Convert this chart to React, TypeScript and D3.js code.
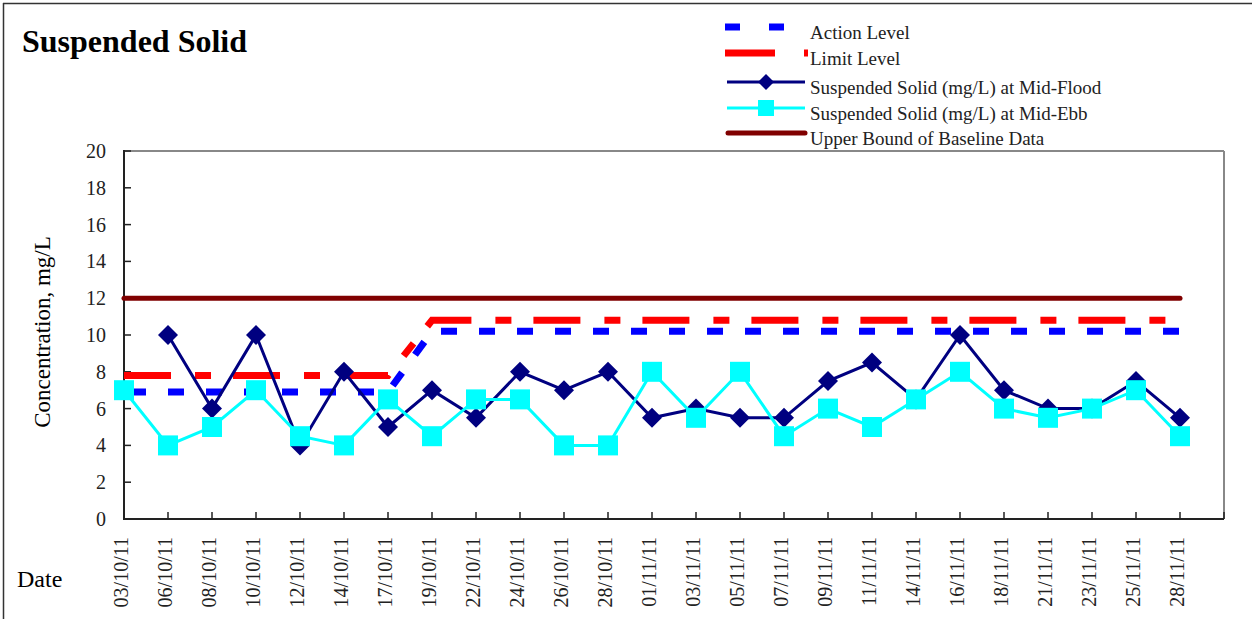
import * as d3 from "d3";

// dates on the category axis
const dates = [
  "03/10/11", "06/10/11", "08/10/11", "10/10/11", "12/10/11", "14/10/11", "17/10/11",
  "19/10/11", "22/10/11", "24/10/11", "26/10/11", "28/10/11", "01/11/11", "03/11/11",
  "05/11/11", "07/11/11", "09/11/11", "11/11/11", "14/11/11", "16/11/11", "18/11/11",
  "21/11/11", "23/11/11", "25/11/11", "28/11/11",
];

const actionLevel = [
  6.9, 6.9, 6.9, 6.9, 6.9, 6.9, 6.9, 10.2, 10.2, 10.2, 10.2, 10.2, 10.2, 10.2,
  10.2, 10.2, 10.2, 10.2, 10.2, 10.2, 10.2, 10.2, 10.2, 10.2, 10.2,
];
const limitLevel = [
  7.8, 7.8, 7.8, 7.8, 7.8, 7.8, 7.8, 10.8, 10.8, 10.8, 10.8, 10.8, 10.8, 10.8,
  10.8, 10.8, 10.8, 10.8, 10.8, 10.8, 10.8, 10.8, 10.8, 10.8, 10.8,
];
const midFlood: (number | null)[] = [
  null, 10, 6, 10, 4, 8, 5, 7, 5.5, 8, 7, 8, 5.5, 6,
  5.5, 5.5, 7.5, 8.5, 6.5, 10, 7, 6, 6, 7.5, 5.5,
];
const midEbb = [
  7, 4, 5, 7, 4.5, 4, 6.5, 4.5, 6.5, 6.5, 4, 4, 8, 5.5,
  8, 4.5, 6, 5, 6.5, 8, 6, 5.5, 6, 7, 4.5,
];
const upperBound = dates.map(() => 12);

const yTicks = [0, 2, 4, 6, 8, 10, 12, 14, 16, 18, 20];

const W = 1252;
const H = 619;
const plot = { left: 124, right: 1224, top: 151, bottom: 519 };
const serif = "'Liberation Serif', 'Times New Roman', serif";

export default function App() {
  const x = d3.scaleBand<string>().domain(dates).range([plot.left, plot.right]).padding(0);
  const y = d3.scaleLinear().domain([0, 20]).range([plot.bottom, plot.top]);

  const line = d3
    .line<number | null>()
    .defined((d) => d != null)
    .x((_, i) => x(dates[i])!)
    .y((d) => y(d as number));

  const diamond = (cx: number, cy: number, r: number) =>
    `M${cx},${cy - r}L${cx + r},${cy}L${cx},${cy + r}L${cx - r},${cy}Z`;

  const legend = [
    { label: "Action Level", y: 27 },
    { label: "Limit Level", y: 53 },
    { label: "Suspended Solid (mg/L) at Mid-Flood", y: 82 },
    { label: "Suspended Solid (mg/L) at Mid-Ebb", y: 108 },
    { label: "Upper Bound of Baseline Data", y: 133 },
  ];

  return (
    <svg
      width={W}
      height={H}
      style={{ position: "absolute", left: 0, top: 0, background: "#fff" }}
      fontFamily={serif}
    >
      {/* outer frame */}
      <line x1={3} y1={3.5} x2={W} y2={3.5} stroke="#333" strokeWidth={1.5} />
      <line x1={3.5} y1={3} x2={3.5} y2={H} stroke="#333" strokeWidth={1.5} />

      <text x={22} y={52} fontSize={32} fontWeight="bold" fill="#000">
        Suspended Solid
      </text>

      {/* plot frame */}
      <line x1={plot.left} y1={plot.top} x2={plot.right} y2={plot.top} stroke="#888" strokeWidth={2} />
      <line x1={plot.right} y1={plot.top} x2={plot.right} y2={plot.bottom} stroke="#888" strokeWidth={2} />

      {/* y axis */}
      <line x1={plot.left} y1={plot.top - 1} x2={plot.left} y2={plot.bottom + 1} stroke="#222" strokeWidth={2} />
      {yTicks.map((t) => (
        <g key={t}>
          <line x1={plot.left} x2={plot.left + 7} y1={y(t)} y2={y(t)} stroke="#222" strokeWidth={1.5} />
          <text x={106} y={y(t)} dy="0.35em" textAnchor="end" fontSize={20} fill="#222">
            {t}
          </text>
        </g>
      ))}
      <text
        transform={`translate(50,332) rotate(-90)`}
        textAnchor="middle"
        fontSize={23}
        fill="#000"
      >
        Concentration, mg/L
      </text>

      {/* x axis */}
      <line x1={plot.left} y1={plot.bottom} x2={plot.right} y2={plot.bottom} stroke="#222" strokeWidth={2} />
      {dates.map((d) => (
        <g key={d}>
          <line x1={x(d)!} x2={x(d)!} y1={plot.bottom} y2={plot.bottom - 7} stroke="#222" strokeWidth={1.5} />
          <text
            transform={`translate(${x(d)! - 3},537) rotate(-90)`}
            dy="0.35em"
            textAnchor="end"
            fontSize={20}
            fill="#222"
          >
            {d}
          </text>
        </g>
      ))}
      <line x1={plot.right} x2={plot.right} y1={plot.bottom} y2={plot.bottom - 7} stroke="#222" strokeWidth={1.5} />
      <text x={17} y={587} fontSize={24} fill="#000">
        Date
      </text>

      {/* action / limit levels */}
      <path d={line(actionLevel)!} fill="none" stroke="#0000ff" strokeWidth={7} strokeDasharray="16 22" strokeDashoffset={-6} />
      <path d={line(limitLevel)!} fill="none" stroke="#ff0000" strokeWidth={7} strokeDasharray="47 24 16 22" />

      {/* mid-flood */}
      <path d={line(midFlood)!} fill="none" stroke="#000080" strokeWidth={3} />
      {midFlood.map((v, i) =>
        v == null ? null : <path key={i} d={diamond(x(dates[i])!, y(v), 10)} fill="#000080" />
      )}

      {/* mid-ebb */}
      <path d={line(midEbb)!} fill="none" stroke="#00ffff" strokeWidth={3} />
      {midEbb.map((v, i) => (
        <rect key={i} x={x(dates[i])! - 10} y={y(v) - 10} width={20} height={20} fill="#00ffff" />
      ))}

      {/* upper bound of baseline */}
      <path d={line(upperBound)!} fill="none" stroke="#800000" strokeWidth={5} strokeLinecap="round" />

      {/* legend */}
      <line x1={725} x2={808} y1={legend[0].y} y2={legend[0].y} stroke="#0000ff" strokeWidth={7} strokeDasharray="15 29" />
      <line x1={725} x2={808} y1={legend[1].y} y2={legend[1].y} stroke="#ff0000" strokeWidth={7} strokeDasharray="50 29" />
      <line x1={727} x2={805} y1={legend[2].y} y2={legend[2].y} stroke="#000080" strokeWidth={3} />
      <path d={diamond(766, legend[2].y, 8)} fill="#000080" />
      <line x1={727} x2={805} y1={legend[3].y} y2={legend[3].y} stroke="#00ffff" strokeWidth={3} />
      <rect x={758} y={legend[3].y - 8} width={16} height={16} fill="#00ffff" />
      <line x1={728} x2={805} y1={legend[4].y} y2={legend[4].y} stroke="#800000" strokeWidth={5} strokeLinecap="round" />
      {legend.map((l) => (
        <text key={l.label} x={810} y={l.y + 12} fontSize={19} fill="#222">
          {l.label}
        </text>
      ))}
    </svg>
  );
}
